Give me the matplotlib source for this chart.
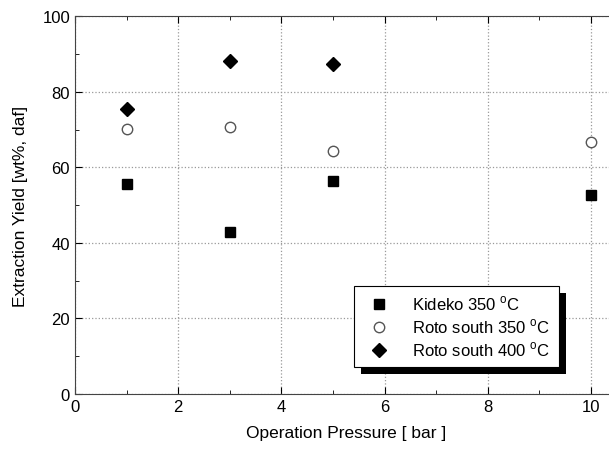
import matplotlib
matplotlib.use('Agg')
import matplotlib.pyplot as plt
from matplotlib.ticker import MultipleLocator
from matplotlib.patches import Rectangle

plt.rcParams['font.family'] = ['Liberation Sans', 'DejaVu Sans']
plt.rcParams['mathtext.fontset'] = 'custom'
plt.rcParams['mathtext.rm'] = 'Liberation Sans'

pressure_k = [1, 3, 5, 10]
kideko_350 = [55.5, 43.0, 56.3, 52.6]
pressure_r350 = [1, 3, 5, 10]
roto_350 = [70.1, 70.6, 64.3, 66.7]
pressure_r400 = [1, 3, 5]
roto_400 = [75.4, 88.1, 87.3]

fig = plt.figure(figsize=(6.09, 4.52), dpi=100)
ax = fig.add_axes([0.123, 0.126, 0.89, 0.836])

ax.plot(pressure_k, kideko_350, 's', color='black', ms=6.5, label='Kideko 350 $^{\\mathrm{o}}$C')
ax.plot(pressure_r350, roto_350, 'o', mfc='white', mec='#555555', mew=1.0, ms=7.5,
        label='Roto south 350 $^{\\mathrm{o}}$C')
ax.plot(pressure_r400, roto_400, 'D', color='black', ms=7, label='Roto south 400 $^{\\mathrm{o}}$C')

ax.set_xlim(0, 10.5)
ax.set_ylim(0, 100)
ax.xaxis.set_major_locator(MultipleLocator(2))
ax.xaxis.set_minor_locator(MultipleLocator(1))
ax.yaxis.set_major_locator(MultipleLocator(20))
ax.yaxis.set_minor_locator(MultipleLocator(10))
ax.tick_params(which='both', direction='in', top=True, right=True, labelsize=12)
ax.tick_params(which='major', length=5)
ax.tick_params(which='minor', length=3)
ax.grid(True, which='major', linestyle=':', color='#999999', linewidth=0.9)
for s in ax.spines.values():
    s.set_color('#444444')

ax.set_xlabel('Operation Pressure [ bar ]', fontsize=12.5, labelpad=8)
ax.set_ylabel('Extraction Yield [wt%, daf]', fontsize=12.5, labelpad=10)

leg = ax.legend(loc='lower right', bbox_to_anchor=(0.908, 0.05), fancybox=False, shadow=False,
                edgecolor='black', fontsize=12, handletextpad=1.0, borderpad=0.5, labelspacing=0.25,
                framealpha=1)
leg.get_frame().set_linewidth(0.8)

# solid black drop shadow like the original
fig.canvas.draw()
bb = leg.get_window_extent()
shadow = Rectangle((bb.x0 + 7, bb.y0 - 7), bb.width, bb.height, transform=None,
                   facecolor='black', edgecolor='none', zorder=4.9)
ax.add_artist(shadow)

fig.savefig('out.png', dpi=100)
